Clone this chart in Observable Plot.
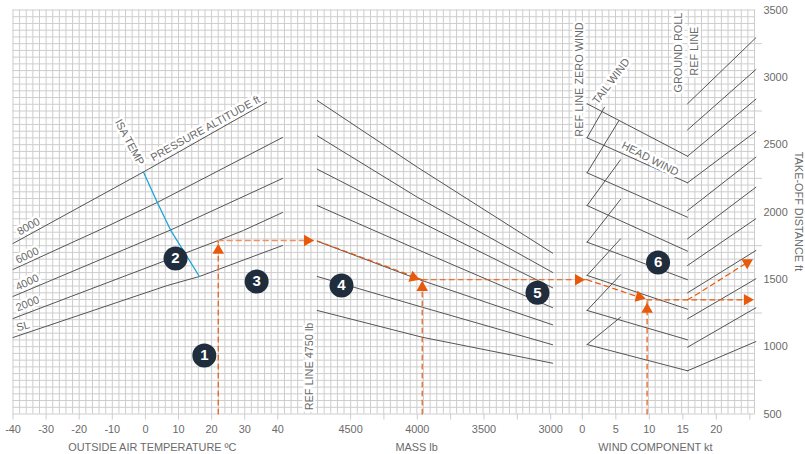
<!DOCTYPE html>
<html>
<head>
<meta charset="utf-8">
<style>html,body{margin:0;padding:0;background:#fff}svg{display:block;overflow:visible}</style>
<script src="https://cdn.jsdelivr.net/npm/d3@7"></script>
<script src="https://cdn.jsdelivr.net/npm/@observablehq/plot@0.6"></script>
</head>
<body>
<div id="chart"></div>
<script>
// Tick values
const tempTicks = [-40,-30,-20,-10,0,10,20,30,40];
const massTicks = [4500,4000,3500,3000];
const massMinorTicks = [4500,4250,4000,3750,3500,3250,3000];
const windTicks = [0,5,10,15,20];
const windMinorTicks = [0,5,10,15,20,25];
const distanceTicks = [500,1000,1500,2000,2500,3000,3500];
const distanceMinorTicks = [750,1250,1750,2250,2750,3250];

// Pressure altitude curves: [outside air temperature, distance ft]
const alt8000 = [[-40,1766],[-0.6,2297],[36.6,2815]];
const alt6000 = [[-40,1573],[-13.9,1866],[3.6,2071],[41.4,2553]];
const alt4000 = [[-40,1373],[7.6,1866],[41.4,2249]];
const alt2000 = [[-40,1209],[22,1788],[29.6,1863],[41.4,1996]];
const altSL   = [[-40,1068],[6.6,1454],[16.3,1521],[41.4,1751]];
const isaTemp = [[-0.6,2297],[3.6,2071],[7.6,1866],[16.3,1521]];

// Mass guide curves: [mass lb, distance ft]
const massLines = [
  [[4750,2828],[4000,2333],[2985,1694]],
  [[4750,2566],[4000,2110],[2985,1551]],
  [[4750,2318],[4000,1937],[2985,1437]],
  [[4750,2048],[4000,1722],[2985,1289]],
  [[4750,1783],[4000,1503],[2985,1162]],
  [[4750,1521],[3963,1293],[2985,1014]],
  [[4750,1269],[3963,1070],[2985,877]]
];

// Wind guide lines: [wind kt, distance ft]
const headWindLines = [
  [[0.7,2804],[15.7,2414]],
  [[0.7,2551],[15.7,2217]],
  [[0.7,2291],[15.7,1961]],
  [[0.7,2048],[15.7,1709]],
  [[0.7,1776],[15.7,1497]],
  [[0.7,1529],[15.7,1278]],
  [[0.7,1269],[15.7,1051]],
  [[0.7,1016],[15.7,821]]
];
const tailWindLines = [
  [[0.7,2551],[3.3,2778]],
  [[0.7,2291],[5.4,2674]],
  [[0.7,2048],[5.7,2388]],
  [[0.7,1776],[5.7,2093]],
  [[0.7,1529],[5.7,1801]],
  [[0.7,1269],[5.7,1534]],
  [[0.7,1016],[5.7,1219]]
];
const groundRollLines = [
  [[15.7,2804],[25.9,3294]],
  [[15.7,2610],[25.9,3058]],
  [[15.7,2414],[25.9,2838]],
  [[15.7,2217],[25.9,2598]],
  [[15.7,2011],[25.9,2407]],
  [[15.7,1801],[25.9,2184]],
  [[15.7,1603],[25.9,1950]],
  [[15.7,1400],[25.9,1714]],
  [[15.7,1207],[25.9,1504]],
  [[15.7,996],[25.9,1289]],
  [[15.7,821],[25.9,1038]]
];

// Shared horizontal position of the three panels (in temperature units)
const tempX = t => t;
const massX = m => 51.9 + (4750 - m) * 0.0403;
const windX = w => 132 + w * 2.024;
const xEnd = 184.3;
const yTickEnd = 186.4;

// Worked example (orange)
const exampleUp1 = [[22,500],[22,1788]];
const exampleAcross1 = [[22,1788],[massX(4750),1788]];
const exampleMass = [[4750,1785],[3963,1497]];
const exampleUp2 = [[3963,500],[3963,1497]];
const exampleAcross2 = [[3963,1497],[0.7,1497]];
const exampleWind = [[0.7,1497],[9.66,1348],[15.7,1348],[24.6,1348]];
const exampleUp3 = [[9.66,500],[9.66,1348]];
const exampleBranch = [[15.7,1348],[17.3,1395],[24.6,1625]];

const arrowX = [tempX(22), massX(4824), massX(4028), massX(3963), windX(-0.6), windX(8.5), windX(9.66), windX(24.6), windX(24.6)];
const arrowY = [1714, 1788, 1514, 1439, 1497, 1369, 1276, 1348, 1625];
const arrowAngle = [0, 90, 110, 0, 90, 105, 0, 90, 60];

// Numbered steps
const stepLabels = ["1","2","3","4","5","6"];
const stepX = [tempX(17.8), tempX(9.1), tempX(33.6), massX(4568), massX(3099), windX(11.3)];
const stepY = [934, 1655, 1484, 1454, 1400, 1625];

// Text labels
const labelText = ["PRESSURE ALTITUDE ft","ISA TEMP","8000","6000","4000","2000","SL","REF LINE 4750 lb","REF LINE ZERO WIND","TAIL WIND","HEAD WIND","GROUND ROLL","REF LINE"];
const labelX = [tempX(18.1),tempX(-4.8),tempX(-35.3),tempX(-35.7),tempX(-35.7),tempX(-35.6),tempX(-37),massX(4808),windX(-0.45),windX(4.3),windX(10.1),windX(14.4),windX(16.8)];
const labelY = [2620,2518,1892,1677,1477,1318,1152,853,2984,2971,2395,3184,3194];
const labelAngle = [-29,62,-29,-25,-25,-22,-15,-90,-90,-53,27,-90,-90];
const axisTitles = ["OUTSIDE AIR TEMPERATURE ºC","MASS lb","WIND COMPONENT kt"];
const axisTitleX = [tempX(2.1), massX(4005), windX(10.9)];

const pts = (groups, fx, prefix) => groups.flatMap((g,i) => g.map(([a,b]) => ({x:fx(a), y:b, id:prefix+i})));
const inkLines = [
  ...pts([alt8000,alt6000,alt4000,alt2000,altSL], tempX, "alt"),
  ...pts(massLines, massX, "mass"),
  ...pts(headWindLines, windX, "head"),
  ...pts(tailWindLines, windX, "tail"),
  ...pts(groundRollLines, windX, "roll")
];
const ink = "#555";
const orange = "#e8590c";
const textColor = "#6a6a6a";
const gridColor = "#cdcdcd";
const dashLine = (data, fx, o={}) => Plot.line(data.map(([a,b]) => ({x:fx(a), y:b})), {x:"x", y:"y", stroke:orange, strokeWidth:1.2, strokeDasharray:"5 4", ...o});

const chart = Plot.plot({
  width:805, height:454,
  marginTop:9.5, marginBottom:40.5, marginLeft:12.5, marginRight:50,
  style:{fontFamily:"'Liberation Sans',Arial,sans-serif", fontSize:"10.9px", background:"#fff", overflow:"visible"},
  x:{type:"linear", domain:[-40,xEnd]},
  y:{type:"linear", domain:[500,3500]},
  marks:[
    // grid
    Plot.ruleX(d3.range(-40,xEnd+0.1,2), {stroke:gridColor, strokeWidth:1}),
    Plot.ruleY(d3.range(500,3501,50), {stroke:gridColor, strokeWidth:1}),
    // panel ticks
    Plot.ruleX([...tempTicks.map(tempX), ...massMinorTicks.map(massX), ...windMinorTicks.map(windX)], {y1:455, y2:500, stroke:gridColor}),
    Plot.ruleY(distanceMinorTicks, {x1:xEnd, x2:yTickEnd, stroke:gridColor}),
    // axes
    Plot.axisX(tempTicks.map(tempX), {anchor:"bottom", tickSize:0, tickPadding:11.5, label:null, fill:textColor, tickFormat:d=>String(d)}),
    Plot.axisX(massTicks.map(massX), {anchor:"bottom", tickSize:0, tickPadding:11.5, label:null, fill:textColor, tickFormat:d=>String(massTicks.find(m=>Math.abs(massX(m)-d)<1e-6))}),
    Plot.axisX(windTicks.map(windX), {anchor:"bottom", tickSize:0, tickPadding:11.5, label:null, fill:textColor, tickFormat:d=>String(windTicks.find(w=>Math.abs(windX(w)-d)<1e-6))}),
    Plot.axisY(distanceTicks, {anchor:"right", tickSize:0, tickPadding:8, label:null, fill:textColor, tickFormat:d=>String(d)}),
    Plot.text(axisTitles, {x:(d,i)=>axisTitleX[i], y:()=>251, text:d=>d, fill:textColor}),
    // curves
    Plot.line(inkLines, {x:"x", y:"y", z:"id", stroke:ink, strokeWidth:1}),
    Plot.line(isaTemp, {x:d=>tempX(d[0]), y:d=>d[1], stroke:"#1ba6d8", strokeWidth:1.3}),
    // labels with white halo
    Plot.text(labelText, {x:(d,i)=>labelX[i], y:(d,i)=>labelY[i], rotate:(d,i)=>labelAngle[i], text:d=>d, fill:textColor, stroke:"#fff", strokeWidth:5}),
    Plot.text(["TAKE-OFF DISTANCE ft"], {x:()=>windX(32.2), y:()=>2004, rotate:90, text:d=>d, fill:textColor}),
    // worked example
    dashLine(exampleUp1, tempX),
    dashLine(exampleAcross1, tempX, {stroke:"#f0935f", strokeWidth:1.4}),
    dashLine(exampleMass, massX),
    dashLine(exampleUp2, massX),
    Plot.line([{x:massX(exampleAcross2[0][0]),y:1497},{x:windX(exampleAcross2[1][0]),y:1497}], {x:"x", y:"y", stroke:orange, strokeWidth:1, strokeDasharray:"5 4"}),
    dashLine(exampleWind, windX),
    dashLine(exampleUp3, windX),
    dashLine(exampleBranch, windX),
    Plot.dot(arrowX, {x:d=>d, y:(d,i)=>arrowY[i], rotate:(d,i)=>arrowAngle[i], symbol:"triangle", r:4.3, fill:orange, stroke:"none"}),
    // steps
    Plot.dot(stepX, {x:d=>d, y:(d,i)=>stepY[i], r:12, fill:"#1f2d3d", stroke:"none"}),
    Plot.text(stepLabels, {x:(d,i)=>stepX[i], y:(d,i)=>stepY[i], text:d=>d, fill:"#fff", fontWeight:"bold", fontSize:15})
  ]
});
document.getElementById("chart").appendChild(chart);
</script>
</body>
</html>
